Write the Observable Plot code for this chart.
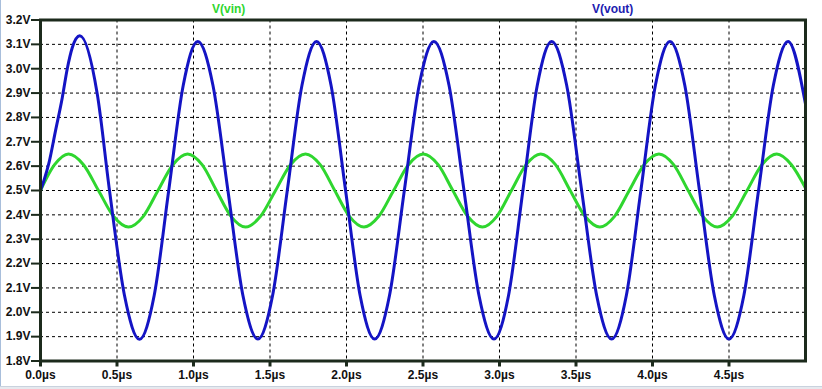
<!DOCTYPE html>
<html><head><meta charset="utf-8">
<script src="https://cdn.jsdelivr.net/npm/d3@7"></script>
<script src="https://cdn.jsdelivr.net/npm/@observablehq/plot@0.6"></script>
<style>
body{margin:0;background:#fff;width:822px;height:389px;overflow:hidden;position:relative;font-family:"Liberation Sans",Arial,sans-serif;}
#legend{position:relative;height:10px;font-weight:bold;font-size:12px;z-index:2;}
#legend span{position:absolute;top:2px;}
#edgeL{position:absolute;left:0;top:0;width:1px;height:389px;background:#a8bedb;}
#edgeB{position:absolute;left:0;top:386px;width:822px;height:3px;background:#e6e9ee;border-top:1px solid #c9d2de;}
</style></head><body>
<div id="legend"><span style="left:212px;color:#2fd62f">V(vin)</span><span style="left:592px;color:#2020b0">V(vout)</span></div>
<div id="chart"></div>
<div id="edgeL"></div><div id="edgeB"></div>
<script>
const xTicks = [0, 0.5, 1.0, 1.5, 2.0, 2.5, 3.0, 3.5, 4.0, 4.5];
const yTicks = [1.8, 1.9, 2.0, 2.1, 2.2, 2.3, 2.4, 2.5, 2.6, 2.7, 2.8, 2.9, 3.0, 3.1, 3.2];

// V(vin): time (µs) and voltage
const vinTime = [0, 0.092, 0.183, 0.281, 0.379, 0.477, 0.575, 0.672, 0.768, 0.865, 0.961, 1.056, 1.150, 1.245, 1.340, 1.438, 1.536, 1.634, 1.732, 1.828, 1.923, 2.019, 2.114, 2.211, 2.308, 2.405, 2.502, 2.599, 2.695, 2.792, 2.888, 2.983, 3.078, 3.174, 3.269, 3.366, 3.462, 3.559, 3.655, 3.752, 3.848, 3.945, 4.042, 4.138, 4.233, 4.329, 4.424, 4.521, 4.618, 4.715, 4.812, 4.908, 5.000];
const vinValue = [2.500, 2.606, 2.650, 2.606, 2.500, 2.394, 2.350, 2.394, 2.500, 2.606, 2.650, 2.606, 2.500, 2.394, 2.350, 2.394, 2.500, 2.606, 2.650, 2.606, 2.500, 2.394, 2.350, 2.394, 2.500, 2.606, 2.650, 2.606, 2.500, 2.394, 2.350, 2.394, 2.500, 2.606, 2.650, 2.606, 2.500, 2.394, 2.350, 2.394, 2.500, 2.606, 2.650, 2.606, 2.500, 2.394, 2.350, 2.394, 2.500, 2.606, 2.650, 2.606, 2.510];

// V(vout): time (µs) and voltage
const voutTime = [0, 0.022, 0.054, 0.098, 0.142, 0.175, 0.207, 0.257, 0.371, 0.451, 0.549, 0.647, 0.743, 0.838, 0.933, 1.028, 1.127, 1.225, 1.323, 1.421, 1.517, 1.613, 1.709, 1.804, 1.899, 1.994, 2.089, 2.184, 2.281, 2.378, 2.475, 2.571, 2.670, 2.768, 2.866, 2.964, 3.059, 3.153, 3.247, 3.341, 3.439, 3.537, 3.635, 3.733, 3.829, 3.924, 4.019, 4.114, 4.211, 4.307, 4.404, 4.500, 4.597, 4.693, 4.790, 4.886, 5.000];
const voutValue = [2.500, 2.540, 2.610, 2.745, 2.880, 3.000, 3.085, 3.135, 2.896, 2.500, 2.069, 1.889, 2.069, 2.500, 2.932, 3.112, 2.932, 2.500, 2.069, 1.890, 2.069, 2.500, 2.932, 3.112, 2.932, 2.500, 2.069, 1.890, 2.069, 2.500, 2.932, 3.112, 2.932, 2.500, 2.069, 1.890, 2.069, 2.500, 2.932, 3.112, 2.932, 2.500, 2.069, 1.890, 2.069, 2.500, 2.932, 3.112, 2.932, 2.500, 2.069, 1.890, 2.069, 2.500, 2.932, 3.112, 2.855];

const vin = vinTime.map((t, i) => ({t, v: vinValue[i]}));
const vout = voutTime.map((t, i) => ({t, v: voutValue[i]}));

const axisColor = "#1c2a1c";
const grid = {stroke: "#000", strokeOpacity: 1, strokeWidth: 1, strokeDasharray: "3,3"};

const chart = Plot.plot({
  width: 822,
  height: 379,
  marginTop: 9.5,
  marginLeft: 40,
  marginRight: 17,
  marginBottom: 28.5,
  x: {domain: [0, 5]},
  y: {domain: [1.8, 3.2]},
  style: {fontFamily: '"Liberation Sans", Arial, sans-serif', fontSize: "12px", fontWeight: "bold", color: "#111", background: "transparent"},
  marks: [
    Plot.gridX(xTicks.slice(1), grid),
    Plot.gridY(yTicks.slice(1, -1), grid),
    Plot.line(vin, {x: "t", y: "v", stroke: "#2fd62f", strokeWidth: 3, curve: "monotone-x"}),
    Plot.line(vout, {x: "t", y: "v", stroke: "#1414c4", strokeWidth: 3, curve: "monotone-x"}),
    Plot.frame({stroke: axisColor, strokeWidth: 3}),
    Plot.axisY(yTicks, {tickFormat: d => d.toFixed(1) + "V", tickSize: 9, tickPadding: 1, strokeWidth: 2, stroke: axisColor, fill: "#111", label: null}),
    Plot.axisX(xTicks, {tickFormat: d => d.toFixed(1) + "µs", tickSize: 6, tickPadding: 3, strokeWidth: 3, stroke: axisColor, fill: "#111", label: null})
  ]
});
document.getElementById("chart").appendChild(chart);
</script>
</body></html>
